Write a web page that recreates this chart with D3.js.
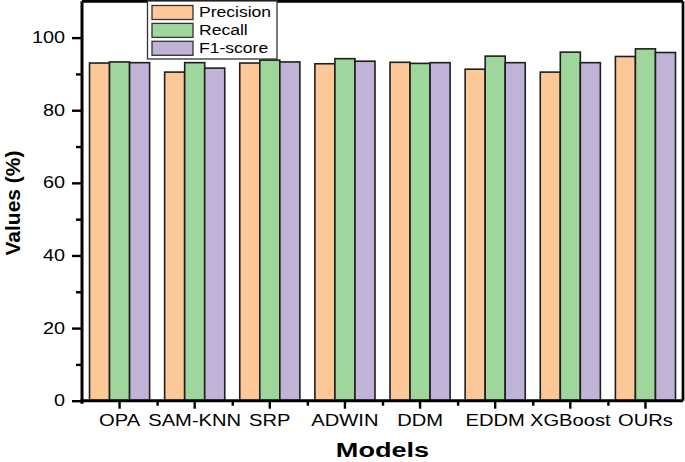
<!DOCTYPE html>
<html>
<head>
<meta charset="utf-8">
<script src="https://cdn.jsdelivr.net/npm/d3@7"></script>
<style>
  html, body { margin: 0; padding: 0; background: #fff; }
  svg { display: block; }
  text { font-family: "Liberation Sans", Arial, sans-serif; fill: #000; }
</style>
</head>
<body>
<svg id="chart" width="685" height="462"></svg>
<script>
const categories = ["OPA", "SAM-KNN", "SRP", "ADWIN", "DDM", "EDDM", "XGBoost", "OURs"];
const seriesNames = ["Precision", "Recall", "F1-score"];
const precision = [93.0, 90.5, 93.0, 92.8, 93.2, 91.3, 90.5, 94.8];
const recall    = [93.3, 93.1, 93.8, 94.2, 92.9, 94.9, 96.0, 96.9];
const f1score   = [93.1, 91.6, 93.3, 93.5, 93.1, 93.1, 93.1, 95.9];
const yTicks = [0, 20, 40, 60, 80, 100];
const yMinorTicks = [10, 30, 50, 70, 90];

const seriesValues = [precision, recall, f1score];
const colors = ["#FDC897", "#9ED69B", "#C1B2D7"];

const svg = d3.select("#chart");
const mLeft = 82, mRight = 683, mTop = 1.3, mBottom = 400.7;

const x = d3.scaleBand().domain(categories).range([mLeft, mRight]).paddingInner(0).paddingOuter(0);
const inner = d3.scaleBand().domain(seriesNames).range([0, x.bandwidth()]).paddingOuter(0.375).paddingInner(0);
const y = d3.scaleLinear().domain([0, 110]).range([mBottom, mTop]);

// bars
const groups = svg.append("g").selectAll("g")
  .data(categories)
  .join("g")
  .attr("transform", d => `translate(${x(d)},0)`);

groups.selectAll("rect")
  .data((d, i) => seriesNames.map((s, j) => ({ s, j, v: seriesValues[j][i] })))
  .join("rect")
  .attr("x", d => inner(d.s))
  .attr("width", inner.bandwidth())
  .attr("y", d => y(d.v))
  .attr("height", d => y(0) - y(d.v))
  .attr("fill", d => colors[d.j])
  .attr("stroke", "#1e1e1e")
  .attr("stroke-width", 1.6);

// frame (top and right)
svg.append("line").attr("x1", mLeft).attr("x2", mRight).attr("y1", mTop).attr("y2", mTop)
  .attr("stroke", "#000").attr("stroke-width", 2.7);
svg.append("line").attr("x1", mRight).attr("x2", mRight).attr("y1", mTop).attr("y2", mBottom)
  .attr("stroke", "#000").attr("stroke-width", 2.7);

// y axis minor ticks
svg.append("g")
  .attr("transform", `translate(${mLeft},0)`)
  .call(d3.axisLeft(y).tickValues(yMinorTicks).tickSize(6).tickFormat(""))
  .call(g => g.select(".domain").remove())
  .call(g => g.selectAll("line").attr("stroke-width", 2.4));

// y axis major
const yAxis = svg.append("g")
  .attr("transform", `translate(${mLeft},0)`)
  .call(d3.axisLeft(y).tickValues(yTicks).tickSize(10).tickSizeOuter(0).tickPadding(4));
yAxis.select(".domain").attr("stroke-width", 3).attr("d", `M0,${mBottom + 3}V${mTop}`);
yAxis.selectAll(".tick line").attr("stroke-width", 2.4);
yAxis.selectAll(".tick text")
  .attr("font-size", "16px")
  .attr("x", 0)
  .attr("transform", "translate(-17,0) scale(1.24,1)")
  .attr("text-anchor", "end");

// x axis minor ticks at band boundaries
svg.append("g")
  .attr("transform", `translate(0,${mBottom})`)
  .call(d3.axisBottom(d3.scaleLinear().domain([mLeft, mRight]).range([mLeft, mRight]))
    .tickValues(categories.slice(1).map(c => x(c))).tickSize(5).tickFormat(""))
  .call(g => g.select(".domain").remove())
  .call(g => g.selectAll("line").attr("stroke-width", 2.4));

// x axis major
const xAxis = svg.append("g")
  .attr("transform", `translate(0,${mBottom})`)
  .call(d3.axisBottom(x).tickSize(8).tickSizeOuter(0).tickPadding(6));
xAxis.select(".domain").attr("stroke-width", 3).attr("d", `M${mLeft - 1.5},0H${mRight}`);
xAxis.selectAll(".tick line").attr("stroke-width", 2.4);
xAxis.selectAll(".tick text")
  .attr("font-size", "16px")
  .attr("transform", "scale(1.26,1)");

// axis titles
svg.append("text")
  .attr("transform", `translate(${(mLeft + mRight) / 2},457) scale(1.29,1)`)
  .attr("text-anchor", "middle")
  .attr("font-weight", "bold")
  .attr("font-size", "21px")
  .text("Models");

svg.append("text")
  .attr("transform", `translate(20,203) rotate(-90)`)
  .attr("text-anchor", "middle")
  .attr("font-weight", "bold")
  .attr("font-size", "21px")
  .text("Values (%)");

// legend
const legend = svg.append("g");
legend.append("rect")
  .attr("x", 147.5).attr("y", 1).attr("width", 129.5).attr("height", 58)
  .attr("fill", "#fff").attr("stroke", "#333").attr("stroke-width", 1.3);
const items = legend.selectAll("g.item")
  .data(seriesNames)
  .join("g")
  .attr("class", "item")
  .attr("transform", (d, i) => `translate(0,${i * 17.9})`);
items.append("rect")
  .attr("x", 152).attr("y", 5.5).attr("width", 41).attr("height", 14)
  .attr("fill", (d, i) => colors[i])
  .attr("stroke", "#333").attr("stroke-width", 1.3);
items.append("text")
  .attr("transform", "translate(199,16.8) scale(1.17,1)")
  .attr("font-size", "15px")
  .text(d => d);
</script>
</body>
</html>
